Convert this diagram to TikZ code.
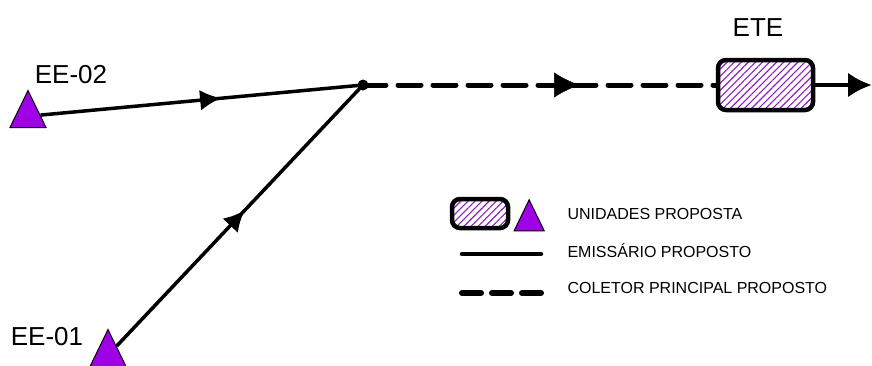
\documentclass[tikz,border=0pt]{standalone}
\usepackage{fontspec}
\setmainfont{Liberation Sans}
\usetikzlibrary{arrows.meta,positioning}
\usetikzlibrary{shapes.geometric}
\usetikzlibrary{patterns.meta}
\usetikzlibrary{decorations.markings}
\definecolor{eeviolet}{RGB}{160,0,230}
\definecolor{hatchpurple}{RGB}{140,30,190}
\tikzset{>=Latex}

\begin{document}
\begin{tikzpicture}[x=1pt, y=-1pt,
                every node/.append style={font=\fontsize{26}{28}\selectfont},
                unit/.style 2 args={isosceles triangle, isosceles triangle stretches,
                             shape border rotate=90, draw, fill=eeviolet, line width=1pt,
                             minimum width=#1, minimum height=#2, inner sep=0pt, anchor=south},
                ete/.style={draw, line width=4.5pt, rounded corners=8pt, inner sep=0pt,
                            pattern={Lines[angle=45, distance=5pt, line width=1.1pt]},
                            pattern color=hatchpurple},
                emis/.style={line width=3.5pt},
                coletor/.style={line width=5pt, line cap=round, dash pattern=on 23pt off 12pt},
                midarrow/.style 2 args={postaction={decorate}, decoration={markings,
                     mark=at position #1 with {\arrow{Latex[length=#2, width=#2]}}}},
                legtext/.style={anchor=west, font=\fontsize{16}{18}\selectfont}]

\useasboundingbox (0,0) rectangle (872,365);

% estacoes elevatorias e ETE
\node[unit={36pt}{37pt}] (ee02) at (28,128) {};
\node[unit={36pt}{37pt}] (ee01) at (108,367) {};
\node[circle, fill, inner sep=0pt, minimum size=11pt] (jct) at (363,85) {};
\node[ete, minimum width=95pt, minimum height=50pt] (ete) at (765.5,85) {};
\coordinate (out) at (872,85);

\node at (71,75) {EE-02};
\node at (47,337) {EE-01};
\node at (758,28) {ETE};

\draw[emis, midarrow={0.56}{21pt}] (ee02) -- (jct.center);
\draw[emis, midarrow={0.52}{21pt}] (ee01) -- (jct.center);
\draw[coletor] (jct.center) -- (ete.west);
\path[postaction={decorate}, decoration={markings,
      mark=at position 0.61 with {\arrow{Latex[length=25pt, width=25pt]}}}] (jct.center) -- (ete.west);
\draw[line width=4.5pt, -{Latex[length=24pt, width=25pt]}] (ete.east) -- (out);

% legenda
\node[ete, minimum width=56pt, minimum height=29pt] (legbox) at (480,213.5) {};
\node[unit={30pt}{31pt}, right=9pt of legbox.south east, anchor=south west, yshift=-1pt] (legtri) {};
\node[legtext] (leg1) at (564,214) {UNIDADES PROPOSTA};
\node[legtext, below=17pt of leg1.south west, anchor=north west] (leg2) {EMISSÁRIO PROPOSTO};
\node[legtext, below=17pt of leg2.south west, anchor=north west] (leg3) {COLETOR PRINCIPAL PROPOSTO};
\coordinate (l2a) at (462,254);
\coordinate (l2b) at (541,254);
\coordinate (l3a) at (462,293);
\coordinate (l3b) at (541,293);
\draw[line width=4.5pt, line cap=round] (l2a) -- (l2b);
\draw[line width=6pt, line cap=round, dash pattern=on 19pt off 11pt] (l3a) -- (l3b);

\end{tikzpicture}
\end{document}
